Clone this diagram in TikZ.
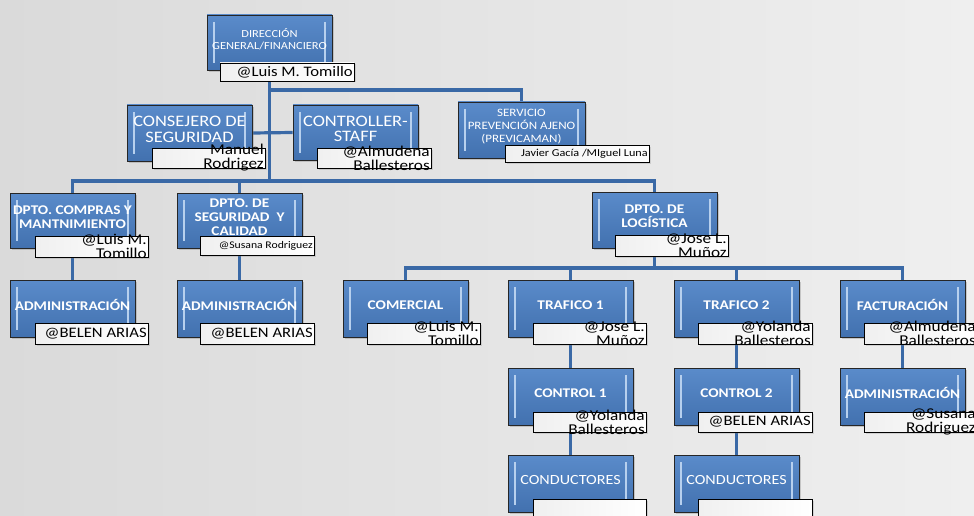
\documentclass[tikz,border=0pt]{standalone}
\usepackage{fontspec}
\setmainfont{Carlito}[FakeStretch=1.15]
\usetikzlibrary{backgrounds,shadows,calc}
\definecolor{bgl}{HTML}{DADADA}
\definecolor{bgr}{HTML}{EFEFEF}
\definecolor{conncol}{HTML}{3A69A6}
\definecolor{boxtop}{HTML}{5A8BCA}
\definecolor{boxbot}{HTML}{4271AF}
\definecolor{bevel}{HTML}{B7D0EE}
\tikzset{
  mainbox/.style={rectangle, draw=black!85, line width=0.9pt, top color=boxtop, bottom color=boxbot,
    inner sep=0pt, drop shadow={opacity=0.35,shadow xshift=2pt,shadow yshift=-2pt},
    path picture={
      \draw[bevel,line width=1.6pt] ([xshift=7pt,yshift=-7pt]path picture bounding box.north west) -- ([xshift=7pt,yshift=7pt]path picture bounding box.south west);
      \draw[bevel,line width=1.6pt] ([xshift=-7pt,yshift=-7pt]path picture bounding box.north east) -- ([xshift=-7pt,yshift=7pt]path picture bounding box.south east);}},
  boxtext/.style={text=white, align=center, inner sep=0pt},
  labbox/.style={rectangle, draw=black, line width=0.9pt, left color=black!6, right color=white,
    inner sep=0pt, drop shadow={opacity=0.25,shadow xshift=1.5pt,shadow yshift=-1.5pt}},
  labtext/.style={anchor=east, inner sep=1.5pt, align=right, text=black},
  connline/.style={draw=conncol, line width=3.2pt}
}
% main box: name, x1, x2, y1, y2, font, text
\newcommand\MBx[7]{%
  \node[mainbox, minimum width={(#3-#2)*1pt}, minimum height={(#5-#4)*1pt}] (#1) at ({(#2+#3)/2},{(#4+#5)/2}) {};
  \node[boxtext, font=#6] (#1t) at ($(#1)+(0,-3.5)$) {#7};}
% label box
\newcommand\LBx[5]{%
  \node[labbox, minimum width={(#3-#2)*1pt}, minimum height={(#5-#4)*1pt}] (#1) at ({(#2+#3)/2},{(#4+#5)/2}) {};}
\newcommand\LTx[3]{\node[labtext, font=#2] (#1t) at (#1.east) {#3};}
\newcommand\fA{\fontsize{15}{14}\selectfont}
\newcommand\fB{\fontsize{14.5}{14}\selectfont}
\newcommand\fS{\fontsize{10.2}{12}\selectfont}
\newcommand\fD{\bfseries\fontsize{13.3}{14}\selectfont}
\begin{document}
\begin{tikzpicture}[x=1pt,y=-1pt]
\useasboundingbox (0,0) rectangle (974,516);
\clip (0,0) rectangle (974,516);
\begin{pgfonlayer}{background}
\shade[left color=bgl, right color=bgr] (0,0) rectangle (974,516);
\end{pgfonlayer}

% main boxes
\MBx{A}{207}{332}{15}{70}{\fontsize{10.8}{11.5}\selectfont}{DIRECCIÓN\\GENERAL/FINANCIERO}
\MBx{B}{127}{252}{105}{161}{\fontsize{16}{15.5}\selectfont}{CONSEJERO DE\\SEGURIDAD}
\MBx{C}{293}{418}{105}{160}{\fontsize{16}{15.5}\selectfont}{CONTROLLER-\\STAFF}
\MBx{D}{458}{585}{102}{158}{\fontsize{11.3}{13}\selectfont}{SERVICIO\\PREVENCIÓN AJENO\\(PREVICAMAN)}
\MBx{E}{10}{135}{193}{248}{\fD}{DPTO. COMPRAS Y\\MANTNIMIENTO}
\MBx{F}{177}{302}{193}{248}{\fD}{DPTO. DE\\SEGURIDAD\ \ Y\\CALIDAD}
\MBx{G}{592}{717}{192}{248}{\fD}{DPTO. DE\\LOGÍSTICA}
\MBx{H}{10}{135}{280}{337}{\fD}{ADMINISTRACIÓN}
\MBx{I}{177}{302}{280}{337}{\fD}{ADMINISTRACIÓN}
\MBx{J}{343}{468}{280}{337}{\fD}{COMERCIAL}
\MBx{K}{508}{633}{280}{337}{\fD}{TRAFICO 1}
\MBx{L}{674}{799}{280}{337}{\fD}{TRAFICO 2}
\MBx{M}{840}{965}{280}{337}{\fD}{FACTURACIÓN}
\MBx{N}{508}{633}{368}{425}{\fD}{CONTROL 1}
\MBx{O}{674}{799}{368}{425}{\fD}{CONTROL 2}
\MBx{P}{840}{965}{368}{425}{\fD}{ADMINISTRACIÓN}
\MBx{Q}{508}{633}{455}{512}{\fontsize{14}{15}\selectfont}{CONDUCTORES}
\MBx{R}{674}{799}{455}{512}{\fontsize{14}{15}\selectfont}{CONDUCTORES}

% label boxes
\LBx{la}{220}{354}{63}{81}\LTx{la}{\fB}{@Luis M. Tomillo}
\LBx{lb}{152}{265}{148}{168}\LTx{lb}{\fA}{Manuel\\Rodrigez}
\LBx{lc}{317}{431}{148}{168}\LTx{lc}{\fA}{@Almudena\\Ballesteros}
\LBx{ld}{505}{649}{145}{162}\LTx{ld}{\fontsize{10.6}{12}\selectfont}{Javier Gacía /MIguel Luna}
\LBx{le}{35}{148}{236}{257}\LTx{le}{\fA}{@Luis M.\\Tomillo}
\LBx{lf}{200}{314}{236}{255}\LTx{lf}{\fS}{@Susana Rodriguez}
\LBx{lg}{615}{728}{235}{256}\LTx{lg}{\fA}{@Jose L.\\Muñoz}
\LBx{lh}{35}{148}{323}{344}\LTx{lh}{\fB}{@BELEN ARIAS}
\LBx{li}{200}{314}{323}{344}\LTx{li}{\fB}{@BELEN ARIAS}
\LBx{lj}{367}{480}{323}{344}\LTx{lj}{\fA}{@Luis M.\\Tomillo}
\LBx{lk}{533}{646}{323}{344}\LTx{lk}{\fA}{@Jose L.\\Muñoz}
\LBx{ll}{698}{812}{323}{344}\LTx{ll}{\fA}{@Yolanda\\Ballesteros}
\LBx{lm}{864}{977}{323}{344}\LTx{lm}{\fA}{@Almudena\\Ballesteros}
\LBx{ln}{533}{646}{412}{432}\LTx{ln}{\fA}{@Yolanda\\Ballesteros}
\LBx{lo}{698}{812}{412}{432}\LTx{lo}{\fB}{@BELEN ARIAS}
\LBx{lp}{864}{977}{412}{432}\LTx{lp}{\fA}{@Susana\\Rodriguez}
\LBx{lq}{533}{646}{499}{520}
\LBx{lr}{698}{812}{499}{520}

% connectors
\coordinate (b1) at (269.5,181);
\coordinate (t1) at (269.5,90);
\coordinate (b3) at (654.5,268);
\begin{pgfonlayer}{background}
\draw[connline] (A.south) -- (b1);
\draw[connline] (B.east) -- (C.west);
\draw[connline] (t1) -| (D.north);
\draw[connline] (E.north) -- (E.north |- b1) -- (G.north |- b1) -- (G.north);
\draw[connline] (F.north) -- (F.north |- b1);
\draw[connline] (E.south) -- (H.north);
\draw[connline] (F.south) -- (I.north);
\draw[connline] (G.south) -- (b3);
\draw[connline] (J.north) -- (J.north |- b3) -- (M.north |- b3) -- (M.north);
\draw[connline] (K.north) -- (K.north |- b3);
\draw[connline] (L.north) -- (L.north |- b3);
\draw[connline] (K.south) -- (N.north);
\draw[connline] (N.south) -- (Q.north);
\draw[connline] (L.south) -- (O.north);
\draw[connline] (O.south) -- (R.north);
\draw[connline] (M.south) -- (P.north);
\end{pgfonlayer}
\end{tikzpicture}
\end{document}
